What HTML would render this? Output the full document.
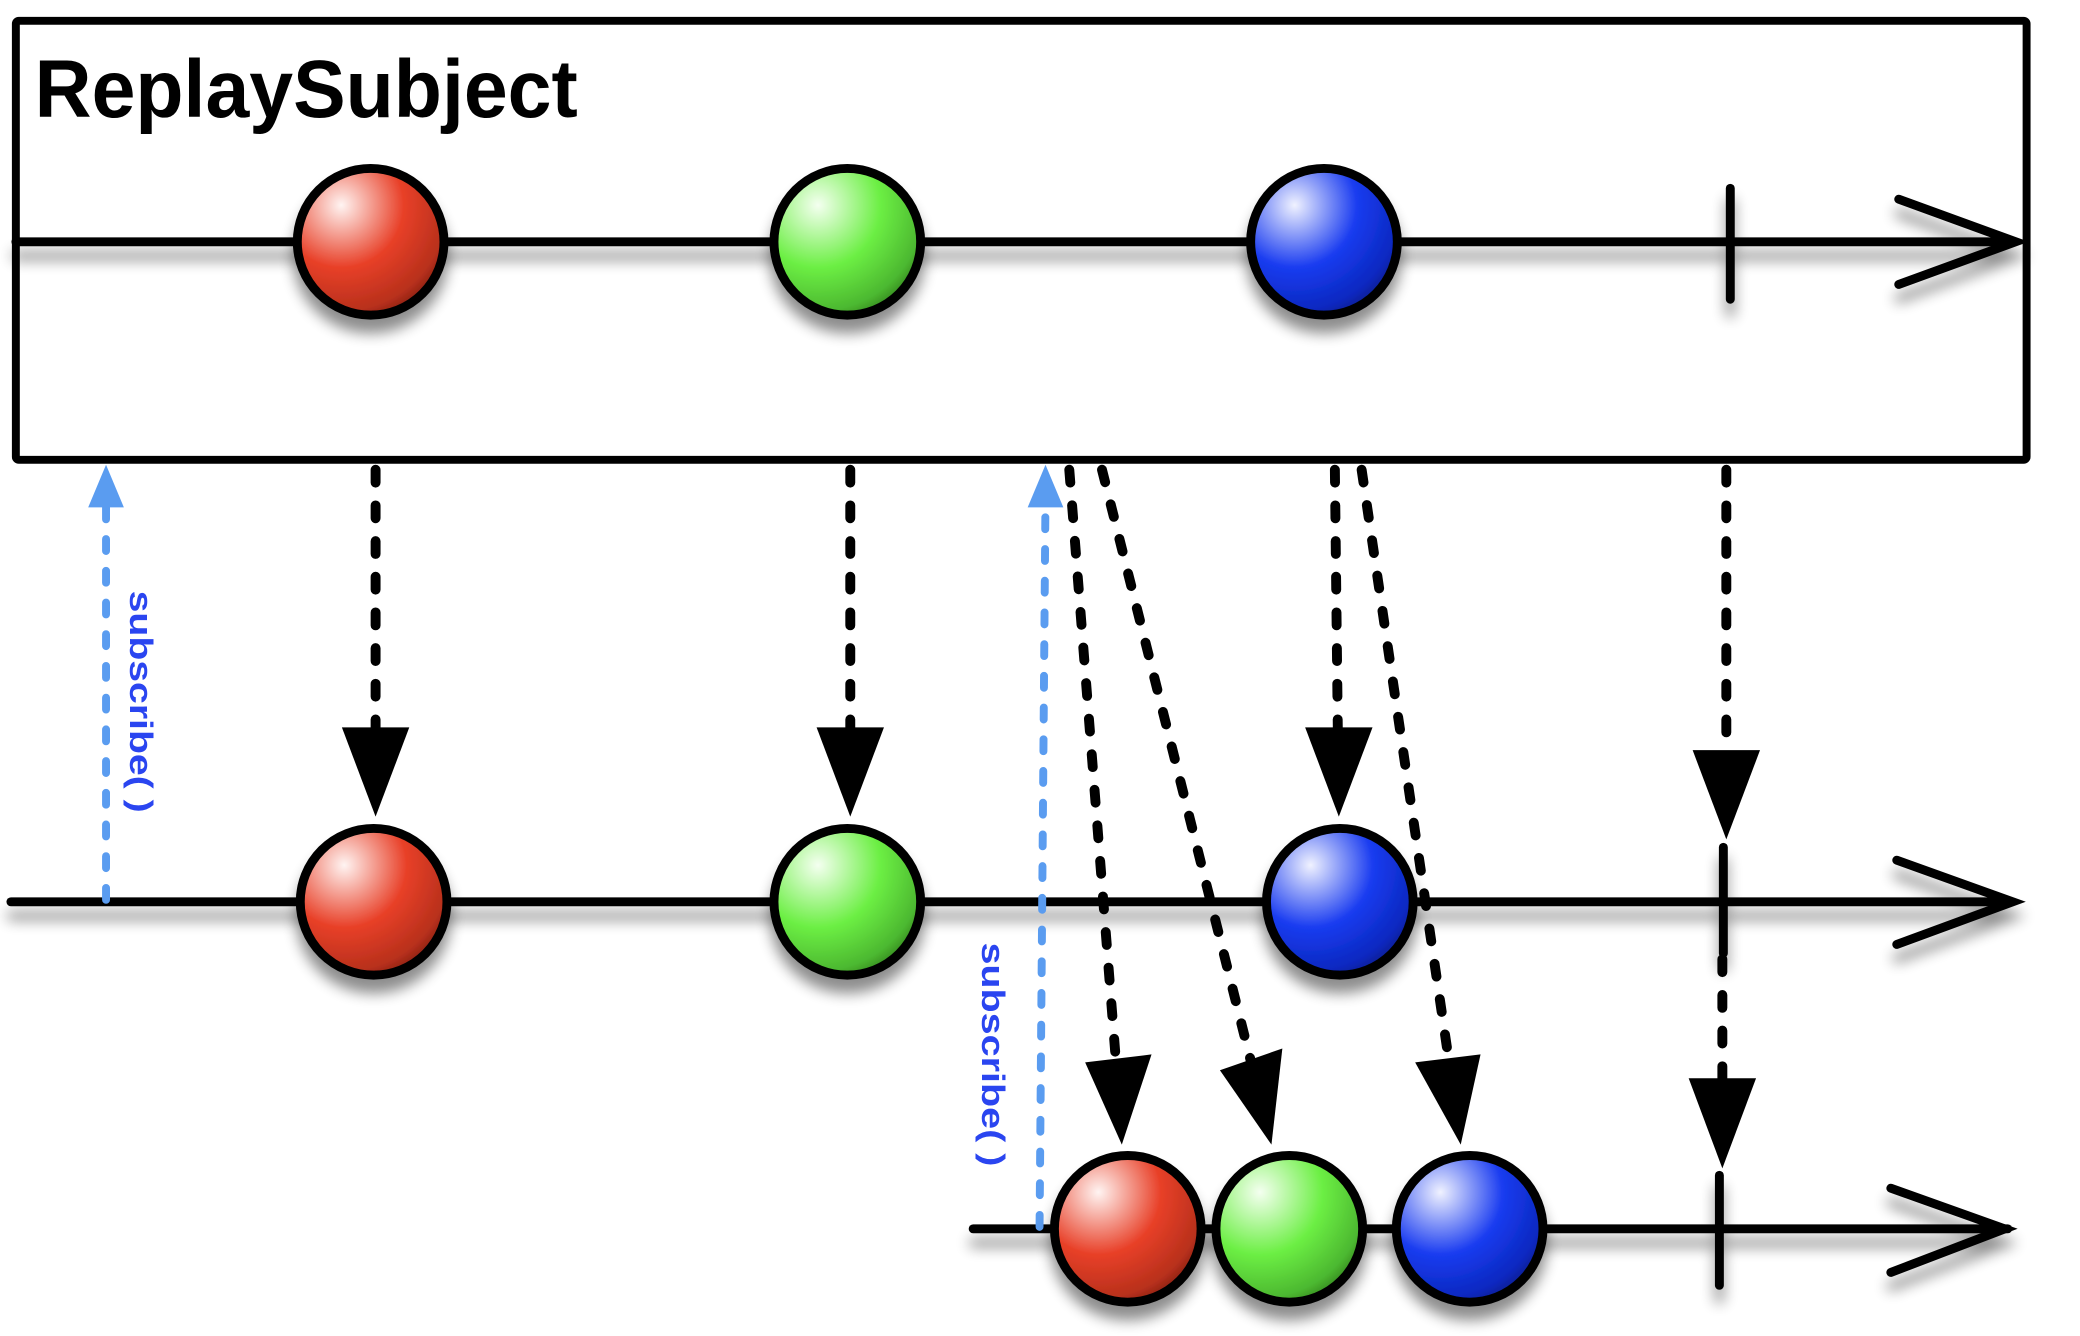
<!DOCTYPE html>
<html><head><meta charset="utf-8"><style>html,body{margin:0;padding:0;background:#fff}svg{display:block}</style></head>
<body>
<svg width="2080" height="1336" viewBox="0 0 2080 1336" xmlns="http://www.w3.org/2000/svg">
<defs>
<radialGradient id="gr" cx="0.3" cy="0.25" r="0.85"><stop offset="0" stop-color="#fff4f2"/><stop offset="0.5" stop-color="#e84028"/><stop offset="0.85" stop-color="#b8301c"/><stop offset="1" stop-color="#7a1c10"/></radialGradient>
<radialGradient id="gg" cx="0.3" cy="0.25" r="0.85"><stop offset="0" stop-color="#f4fff0"/><stop offset="0.5" stop-color="#6cef44"/><stop offset="0.85" stop-color="#4cb830"/><stop offset="1" stop-color="#2c7a1a"/></radialGradient>
<radialGradient id="gb" cx="0.3" cy="0.25" r="0.85"><stop offset="0" stop-color="#f0f2ff"/><stop offset="0.5" stop-color="#1a3cf0"/><stop offset="0.85" stop-color="#0a28c0"/><stop offset="1" stop-color="#061a80"/></radialGradient>
<filter id="sh" x="-20%" y="-50%" width="140%" height="200%"><feGaussianBlur in="SourceAlpha" stdDeviation="7"/><feOffset dy="14"/><feComponentTransfer><feFuncA type="linear" slope="0.45"/></feComponentTransfer><feMerge><feMergeNode/><feMergeNode in="SourceGraphic"/></feMerge></filter>
</defs>
<g transform="scale(0.991)">
<rect x="16" y="21" width="2029" height="443" rx="3" fill="#fff" stroke="#000" stroke-width="8"/>
<text x="35" y="118" font-family="Liberation Sans, sans-serif" font-weight="bold" font-size="82" textLength="548" lengthAdjust="spacingAndGlyphs">ReplaySubject</text>

<g stroke="#000" stroke-width="9" fill="none" stroke-linecap="round" filter="url(#sh)">
<line x1="16" y1="244" x2="2030" y2="244"/>
<polyline points="1916,201 2034,244 1916,287"/>
<line x1="1746" y1="190" x2="1746" y2="302"/>
</g>
<g stroke="#000" stroke-width="9" fill="none" stroke-linecap="round" filter="url(#sh)">
<line x1="11" y1="910" x2="2030" y2="910"/>
<polyline points="1914,868 2031,910 1914,953"/>
<line x1="1739" y1="855" x2="1739" y2="962"/>
</g>
<g stroke="#000" stroke-width="9" fill="none" stroke-linecap="round" filter="url(#sh)">
<line x1="982" y1="1240" x2="2026" y2="1240"/>
<polyline points="1908,1199 2023,1240 1908,1284"/>
<line x1="1735" y1="1186" x2="1735" y2="1297"/>
</g>

<g stroke="#000" stroke-width="10" stroke-dasharray="13 23" stroke-linecap="round" fill="none">
<line x1="379" y1="474" x2="379" y2="740"/>
<line x1="858" y1="474" x2="858" y2="740"/>
<line x1="1347" y1="474" x2="1350" y2="740"/>
<line x1="1742" y1="474" x2="1742" y2="760"/>
<line x1="1079" y1="474" x2="1126" y2="1070"/>
<line x1="1112" y1="474" x2="1262" y2="1070"/>
<line x1="1374" y1="474" x2="1462" y2="1070"/>
<line x1="1738" y1="968" x2="1738" y2="1090"/>
</g>
<g fill="#000">
<polygon points="345,734 413,734 379,824"/>
<polygon points="824,734 892,734 858,824"/>
<polygon points="1317,734 1385,734 1351,824"/>
<polygon points="1708,757 1776,757 1742,847"/>
<polygon points="1095,1072 1162,1064 1132,1155"/>
<polygon points="1231,1080 1294,1058 1283,1155"/>
<polygon points="1428,1072 1494,1064 1474,1155"/>
<polygon points="1704,1088 1772,1088 1738,1179"/>
</g>

<g stroke="#5a9cf0" stroke-width="8" stroke-dasharray="12 20" stroke-linecap="round" fill="none">
<line x1="107" y1="908" x2="107" y2="500"/>
<line x1="1049" y1="1238" x2="1055" y2="500"/>
</g>
<polygon points="107,469 89,512 125,512" fill="#5a9cf0"/>
<polygon points="1055,469 1037,512 1073,512" fill="#5a9cf0"/>
<text transform="translate(131,596) rotate(90)" font-family="Liberation Sans, sans-serif" font-weight="bold" font-size="33" fill="#2a45f0" textLength="224" lengthAdjust="spacingAndGlyphs">subscribe( )</text>
<text transform="translate(991,951) rotate(90)" font-family="Liberation Sans, sans-serif" font-weight="bold" font-size="33" fill="#2a45f0" textLength="226" lengthAdjust="spacingAndGlyphs">subscribe( )</text>

<g stroke="#000" stroke-width="9" filter="url(#sh)">
<circle cx="374" cy="244" r="74" fill="url(#gr)"/>
<circle cx="855" cy="244" r="74" fill="url(#gg)"/>
<circle cx="1336" cy="244" r="74" fill="url(#gb)"/>
<circle cx="377" cy="910" r="74" fill="url(#gr)"/>
<circle cx="855" cy="910" r="74" fill="url(#gg)"/>
<circle cx="1352" cy="910" r="74" fill="url(#gb)"/>
<circle cx="1138" cy="1240" r="74" fill="url(#gr)"/>
<circle cx="1301" cy="1240" r="74" fill="url(#gg)"/>
<circle cx="1483" cy="1240" r="74" fill="url(#gb)"/>
</g>
</g>
</svg>
</body></html>
